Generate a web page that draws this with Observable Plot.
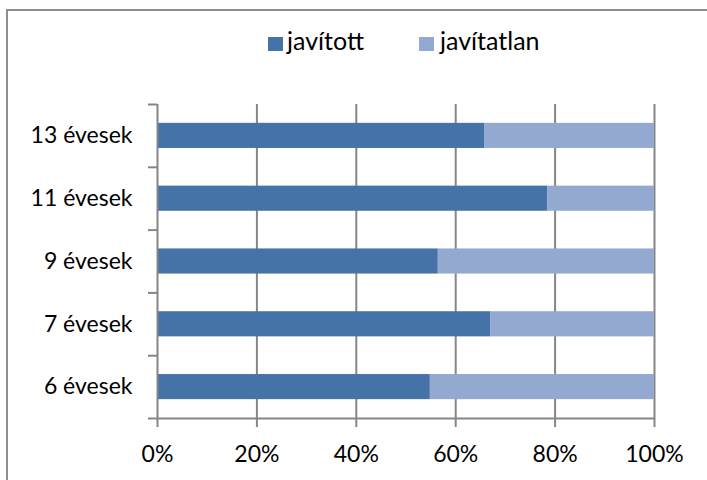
<!DOCTYPE html>
<html>
<head>
<meta charset="utf-8">
<script src="https://cdn.jsdelivr.net/npm/d3@7"></script>
<script src="https://cdn.jsdelivr.net/npm/@observablehq/plot@0.6"></script>
<style>
  html, body { margin: 0; padding: 0; background: #fff; overflow: hidden; }
  #wrap { position: relative; width: 707px; height: 480px; overflow: hidden; font-family: Lato, sans-serif; }
  #frame { position: absolute; left: 6px; top: 9px; width: 720px; height: 500px; box-sizing: border-box; border: 2px solid #8e8e8e; pointer-events: none; }
  #legend { position: relative; height: 64px; font-size: 25px; color: #000; }
  .item { position: absolute; top: 0; height: 64px; }
  .sw { position: absolute; top: 37px; width: 15px; height: 14px; }
  .lab { position: absolute; top: 25px; line-height: 30px; white-space: nowrap; }
  #chart svg { display: block; }
</style>
</head>
<body>
<div id="wrap">
  <div id="legend"></div>
  <div id="chart"></div>
  <div id="frame"></div>
</div>
<script>
const categories = ["6 évesek", "7 évesek", "9 évesek", "11 évesek", "13 évesek"];
const seriesNames = ["javított", "javítatlan"];
const javitott = [54.9, 67.1, 56.5, 78.5, 65.8];
const javitatlan = [45.1, 32.9, 43.5, 21.5, 34.2];
const colors = ["#4572A7", "#93A9CF"];
const xTicks = [0, 20, 40, 60, 80, 100];

const rows = [];
categories.forEach((c, i) => {
  const vals = [javitott[i], javitatlan[i]];
  const ends = d3.cumsum(vals);
  vals.forEach((v, k) => {
    rows.push({category: c, series: seriesNames[k], x1: ends[k] - v, x2: ends[k], y1: i + 0.3, y2: i + 0.7});
  });
});

const axisColor = "#868686";
const chart = Plot.plot({
  width: 707,
  height: 416,
  marginTop: 40,
  marginBottom: 62,
  marginLeft: 157,
  marginRight: 53,
  style: {fontFamily: "Lato, sans-serif", fontSize: "23px", color: "black", background: "transparent"},
  x: {domain: [0, 100]},
  y: {domain: [0, categories.length]},
  color: {domain: seriesNames, range: colors},
  marks: [
    Plot.gridX(xTicks.slice(1), {stroke: axisColor, strokeWidth: 2, strokeOpacity: 1}),
    Plot.rect(rows, {x1: "x1", x2: "x2", y1: "y1", y2: "y2", fill: "series"}),
    Plot.ruleX([0], {stroke: axisColor, strokeWidth: 2}),
    Plot.ruleY([0], {stroke: axisColor, strokeWidth: 2}),
    Plot.axisX(xTicks, {tickSize: 9, tickPadding: 18, tickFormat: d => d + "%", stroke: axisColor, strokeWidth: 2, fill: "black", fontSize: 23}),
    Plot.axisY(d3.range(categories.length + 1), {tickSize: 9, tickFormat: () => "", stroke: axisColor, strokeWidth: 2}),
    Plot.axisY(categories.map((c, i) => i + 0.5), {tickSize: 0, tickPadding: 25, tickFormat: d => categories[Math.floor(d)], fill: "black", fontSize: 23})
  ]
});
document.getElementById("chart").appendChild(chart);

const legend = document.getElementById("legend");
const lefts = [268, 419];
seriesNames.forEach((s, k) => {
  const item = document.createElement("div");
  item.className = "item";
  item.style.left = lefts[k] + "px";
  const sw = document.createElement("div");
  sw.className = "sw";
  sw.style.left = "0px";
  sw.style.background = colors[k];
  const lab = document.createElement("div");
  lab.className = "lab";
  lab.style.left = (k === 0 ? 19 : 21) + "px";
  lab.textContent = s;
  item.appendChild(sw);
  item.appendChild(lab);
  legend.appendChild(item);
});
</script>
</body>
</html>
